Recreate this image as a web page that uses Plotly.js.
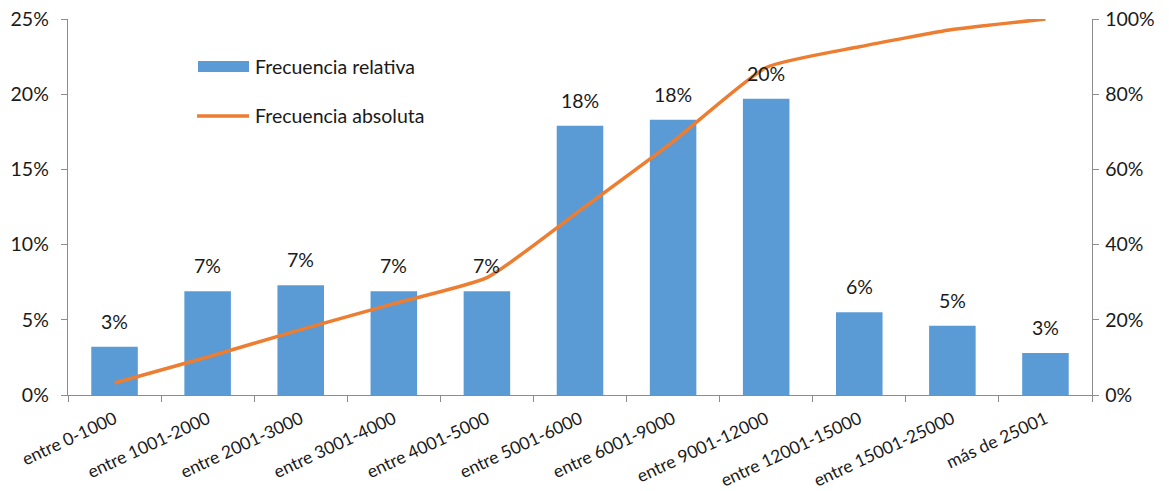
<!DOCTYPE html>
<html>
<head>
<meta charset="utf-8">
<script src="https://cdn.plot.ly/plotly-3.0.1.min.js"></script>
<style>html,body{margin:0;padding:0;background:#fff;}#chart{width:1169px;height:491px;}</style>
</head>
<body>
<div id="chart"></div>
<script>
var categories = ["entre 0-1000","entre 1001-2000","entre 2001-3000","entre 3001-4000","entre 4001-5000","entre 5001-6000","entre 6001-9000","entre 9001-12000","entre 12001-15000","entre 15001-25000","más de 25001"];
var relativa = [0.032,0.069,0.073,0.069,0.069,0.179,0.183,0.197,0.055,0.046,0.028];
var acumulada = [0.032,0.101,0.174,0.243,0.312,0.491,0.674,0.871,0.926,0.972,1.000];
var labels = ["3%","7%","7%","7%","7%","18%","18%","20%","6%","5%","3%"];
var leftTicks = [0,0.05,0.10,0.15,0.20,0.25];
var leftTickText = ["0%","5%","10%","15%","20%","25%"];
var rightTicks = [0,0.2,0.4,0.6,0.8,1.0];
var rightTickText = ["0%","20%","40%","60%","80%","100%"];

var FONT = "Lato, 'Open Sans', sans-serif";
var fnt = {family: FONT, size: 19.5, color: "#1a1a1a"};
var xfnt = {family: FONT, size: 17.5, color: "#1a1a1a"};
var axisColor = "#8c8c8c";

var traces = [
  {type:"bar", x:categories, y:relativa, name:"Frecuencia relativa", marker:{color:"#5B9BD5"}, width:0.5, showlegend:false, hoverinfo:"y"},
  {type:"scatter", mode:"lines", x:categories, y:acumulada, yaxis:"y2", name:"Frecuencia absoluta", line:{color:"#ED7D31", width:3.5, shape:"spline", smoothing:0.5}, showlegend:false}
];

var annotations = categories.map(function(c,i){
  return {x:c, y:relativa[i], xref:"x", yref:"y", text:labels[i], showarrow:false, yanchor:"bottom", yshift:12, font:fnt};
});
annotations.push({xref:"paper", yref:"paper", x:(253-68)/1024, y:(395-67)/376, text:"Frecuencia relativa", showarrow:false, xanchor:"left", yanchor:"middle", font:fnt});
annotations.push({xref:"paper", yref:"paper", x:(253-68)/1024, y:(395-115)/376, text:"Frecuencia absoluta", showarrow:false, xanchor:"left", yanchor:"middle", font:fnt});

var shapes = [
  {type:"rect", xref:"paper", yref:"paper", x0:(198-68)/1024, x1:(249-68)/1024, y0:(395-72)/376, y1:(395-61)/376, fillcolor:"#5B9BD5", line:{width:0}},
  {type:"line", xref:"paper", yref:"paper", x0:(197-68)/1024, x1:(249-68)/1024, y0:(395-116)/376, y1:(395-116)/376, line:{color:"#ED7D31", width:3.5}}
];

var layout = {
  width:1169, height:491,
  margin:{l:68, r:77, t:19, b:96, pad:0},
  paper_bgcolor:"#fff", plot_bgcolor:"#fff",
  font:fnt,
  showlegend:false,
  bargap:0.5,
  xaxis:{type:"category", showgrid:false, showline:true, linecolor:axisColor, linewidth:1.3, ticks:"outside", tickson:"boundaries", ticklen:6, tickcolor:axisColor, tickangle:-25, tickfont:xfnt, zeroline:false, ticklabelstandoff:6},
  yaxis:{range:[0,0.25], tickvals:leftTicks, ticktext:leftTickText, showgrid:false, showline:true, linecolor:axisColor, linewidth:1.3, ticks:"outside", ticklen:6, tickcolor:axisColor, tickfont:fnt, zeroline:false, ticklabelstandoff:8},
  yaxis2:{range:[0,1], overlaying:"y", side:"right", tickvals:rightTicks, ticktext:rightTickText, showgrid:false, showline:true, linecolor:axisColor, linewidth:1.3, ticks:"outside", ticklen:6, tickcolor:axisColor, tickfont:fnt, zeroline:false, ticklabelstandoff:2},
  annotations:annotations,
  shapes:shapes
};

Plotly.newPlot("chart", traces, layout, {displayModeBar:false, staticPlot:true});
</script>
</body>
</html>
